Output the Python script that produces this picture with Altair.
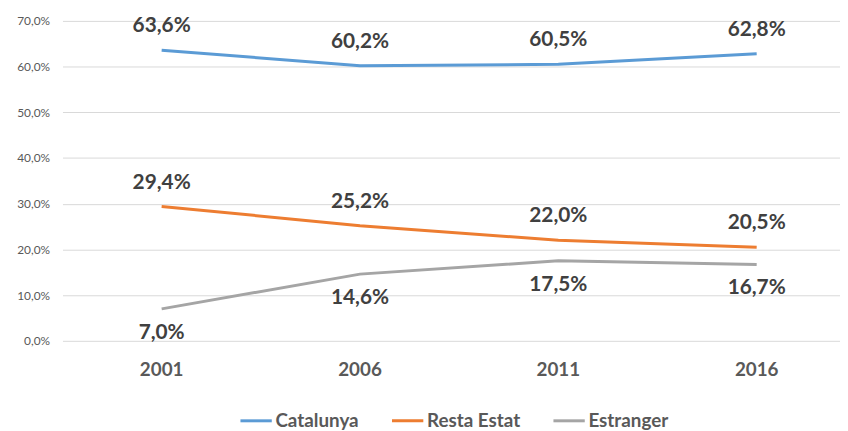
import altair as alt
import pandas as pd

years = ["2001", "2006", "2011", "2016"]
series_names = ["Catalunya", "Resta Estat", "Estranger"]
catalunya = [63.6, 60.2, 60.5, 62.8]
resta_estat = [29.4, 25.2, 22.0, 20.5]
estranger = [7.0, 14.6, 17.5, 16.7]
y_ticks = [0, 10, 20, 30, 40, 50, 60, 70]
colors = ["#5B9BD5", "#ED7D31", "#A5A5A5"]

rows = []
for name, vals in zip(series_names, [catalunya, resta_estat, estranger]):
    for yr, v in zip(years, vals):
        rows.append({"year": yr, "serie": name, "value": v})
df = pd.DataFrame(rows)

FONT = "Lato"

x_enc = alt.X(
    "year:N",
    sort=years,
    scale=alt.Scale(type="band", range=[0, 801], paddingInner=0, paddingOuter=0),
    axis=alt.Axis(
        title=None, domain=False, ticks=False, grid=False,
        labelFontSize=19, labelFontWeight="bold", labelColor="#595959",
        labelFont=FONT, labelPadding=20, labelAngle=0,
    ),
)
y_enc = alt.Y(
    "value:Q",
    scale=alt.Scale(domain=[0, 70], nice=False, zero=True),
    axis=alt.Axis(
        title=None, domain=False, ticks=False, values=y_ticks,
        grid=True, gridColor="#D9D9D9", gridWidth=1,
        labelFontSize=12, labelColor="#595959", labelFont=FONT,
        labelPadding=13,
        labelExpr="replace(format(datum.value, '.1f'), '.', ',') + '%'",
    ),
)
color_enc = alt.Color(
    "serie:N",
    sort=series_names,
    scale=alt.Scale(domain=series_names, range=colors),
    legend=alt.Legend(
        title=None, orient="none", direction="horizontal",
        legendX=178, legendY=386,
        symbolType="stroke", symbolSize=1000, symbolStrokeWidth=3,
        labelFontSize=19, labelFontWeight="bold", labelColor="#595959",
        labelFont=FONT, labelOffset=2, columnPadding=26,
    ),
)

base = alt.Chart(df)

lines = base.mark_line(strokeWidth=3).encode(x=x_enc, y=y_enc, color=color_enc)

text_style = dict(fontSize=21, fontWeight="bold", color="#404040", font=FONT)
label_expr = "replace(format(datum.value, '.1f'), '.', ',') + '%'"

labels_above = base.transform_filter(
    alt.FieldOneOfPredicate(field="serie", oneOf=["Catalunya", "Resta Estat"])
).transform_calculate(lbl=label_expr).mark_text(dy=-24, **text_style).encode(
    x=alt.X("year:N", sort=years), y="value:Q", text="lbl:N"
)
labels_below = base.transform_filter(
    alt.FieldEqualPredicate(field="serie", equal="Estranger")
).transform_calculate(lbl=label_expr).mark_text(dy=24, **text_style).encode(
    x=alt.X("year:N", sort=years), y="value:Q", text="lbl:N"
)

chart = alt.layer(lines, labels_above, labels_below).properties(
    width=785, height=323,
    autosize=alt.AutoSizeParams(type="none"),
    padding={"left": 55, "top": 11, "right": 0, "bottom": 89},
).configure_view(stroke=None)

chart.save("out.html", embed_options={"renderer": "svg", "actions": False})
